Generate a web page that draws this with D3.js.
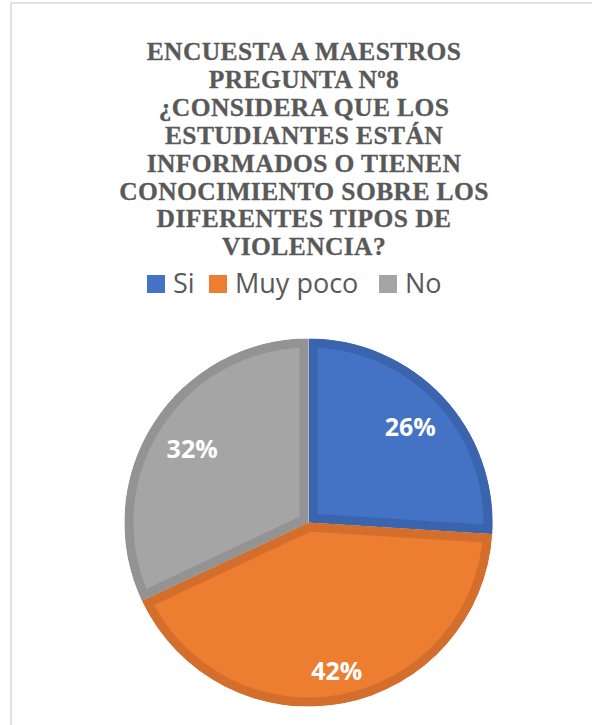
<!DOCTYPE html>
<html>
<head>
<meta charset="utf-8">
<script src="https://cdn.jsdelivr.net/npm/d3@7"></script>
<style>
  html, body { margin: 0; padding: 0; background: #fff; }
  svg { display: block; }
</style>
</head>
<body>
<svg></svg>
<script>
var width = 592;
var height = 725;

// data
var categories = ['Si', 'Muy poco', 'No'];
var values = [26, 42, 32];
var fills = ['#4472C4', '#ED7D31', '#A5A5A5'];
var edges = ['#3B64AE', '#D36E2C', '#939393'];
var titleLines = [
  'ENCUESTA A MAESTROS',
  'PREGUNTA Nº8',
  '¿CONSIDERA QUE LOS',
  'ESTUDIANTES ESTÁN',
  'INFORMADOS O TIENEN',
  'CONOCIMIENTO SOBRE LOS',
  'DIFERENTES TIPOS DE',
  'VIOLENCIA?'
];

var cx = 308.5, cy = 522.5, radius = 184;

const svg = d3.select('svg')
    .attr('width', width)
    .attr('height', height);

// chart area frame (only top and left edges are visible)
svg.append('rect')
    .attr('x', 11)
    .attr('y', 3)
    .attr('width', 640)
    .attr('height', 760)
    .attr('fill', 'none')
    .attr('stroke', '#D9D9D9')
    .attr('stroke-width', 1.5);

// title
svg.append('text')
    .attr('text-anchor', 'middle')
    .attr('font-family', '"Liberation Serif", "Times New Roman", serif')
    .attr('font-weight', 'bold')
    .attr('font-size', 25.5)
    .attr('letter-spacing', 0.4)
    .attr('fill', '#595959')
    .attr('stroke', '#595959')
    .attr('stroke-width', 0.3)
    .selectAll('tspan')
    .data(titleLines)
    .join('tspan')
    .attr('x', 304)
    .attr('y', (d, i) => 60 + i * 27.9)
    .text(d => d);

// legend
var legendX = d3.scaleOrdinal()
    .domain(categories)
    .range([147, 209, 379]);

const legend = svg.selectAll('g.legend')
    .data(categories)
    .join('g')
    .attr('class', 'legend')
    .attr('transform', d => `translate(${legendX(d)},275)`);

legend.append('rect')
    .attr('width', 18)
    .attr('height', 18)
    .attr('fill', (d, i) => fills[i]);

legend.append('text')
    .attr('x', 26)
    .attr('y', 18)
    .attr('font-family', '"Open Sans", "Noto Sans", sans-serif')
    .attr('font-size', 27)
    .attr('fill', '#595959')
    .text(d => d);

// pie
var pie = d3.pie().sort(null).value(d => d);
var arcs = pie(values);
var arc = d3.arc().innerRadius(0).outerRadius(radius);

// labels sit at the inside end of each slice, pulled in by the label box size
var labelW = 53, labelH = 18, labelPad = 19;
function labelPos(d) {
  var a = (d.startAngle + d.endAngle) / 2;
  var r = radius - labelPad - (Math.abs(Math.sin(a)) * labelW / 2 + Math.abs(Math.cos(a)) * labelH / 2);
  return [Math.sin(a) * r, -Math.cos(a) * r];
}

const g = svg.append('g')
    .attr('transform', `translate(${cx},${cy})`);

const defs = svg.append('defs');
defs.selectAll('clipPath')
    .data(arcs)
    .join('clipPath')
    .attr('id', (d, i) => 'clip' + i)
    .append('path')
    .attr('d', arc);

g.selectAll('path.slice')
    .data(arcs)
    .join('path')
    .attr('class', 'slice')
    .attr('d', arc)
    .attr('fill', (d, i) => fills[i])
    .attr('stroke', (d, i) => edges[i])
    .attr('stroke-width', 18)
    .attr('stroke-linejoin', 'miter')
    .attr('clip-path', (d, i) => `url(#clip${i})`);

g.selectAll('text.label')
    .data(arcs)
    .join('text')
    .attr('class', 'label')
    .attr('transform', d => `translate(${labelPos(d)})`)
    .attr('text-anchor', 'middle')
    .attr('dy', '0.36em')
    .attr('font-family', '"Open Sans", "Noto Sans", sans-serif')
    .attr('font-weight', 'bold')
    .attr('font-size', 25)
    .attr('fill', '#fff')
    .text(d => d.data + '%');
</script>
</body>
</html>
